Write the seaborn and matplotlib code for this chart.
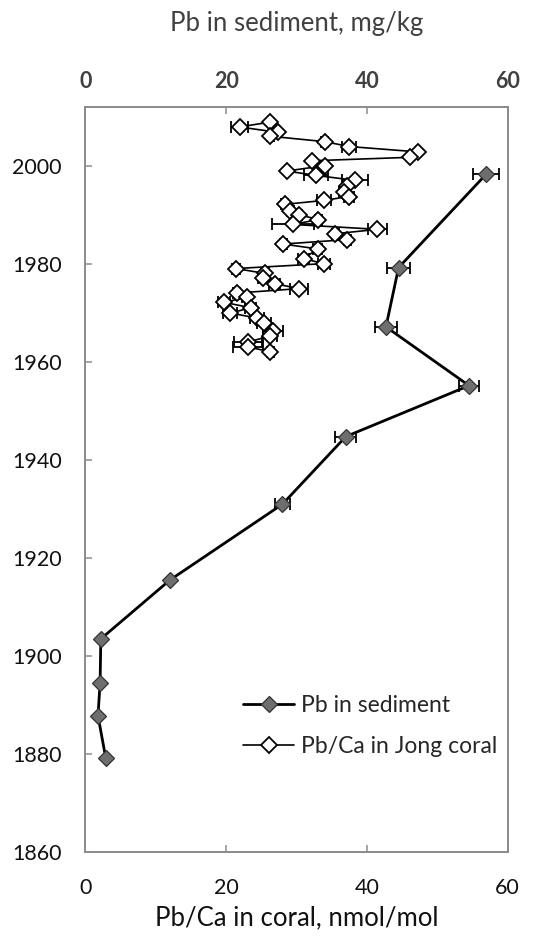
import matplotlib
matplotlib.use("Agg")
import matplotlib.pyplot as plt
import seaborn as sns
import pandas as pd
from matplotlib.lines import Line2D

# Pb in sediment core (mg/kg) by year, with analytical error
sed_year = [1998.3, 1979.3, 1967.2, 1955.2, 1944.8, 1931.0, 1915.5, 1903.5, 1894.6, 1887.8, 1879.2]
sed_pb = [56.9, 44.5, 42.7, 54.5, 37.0, 28.0, 12.0, 2.2, 2.1, 1.8, 2.9]
sed_err = [1.9, 1.6, 1.5, 1.4, 1.5, 1.1, 0.0, 0.0, 0.0, 0.0, 0.0]

# Pb/Ca in Jong coral (nmol/mol) by year, with error
coral_year = [2009.0, 2008.0, 2006.9, 2006.1, 2005.0, 2004.0, 2002.9, 2001.8, 2001.1, 2000.1,
              1999.0, 1998.1, 1997.1, 1996.0, 1994.8, 1993.8, 1993.0, 1992.2, 1990.9, 1990.1,
              1989.1, 1988.1, 1987.1, 1986.2, 1985.0, 1984.1, 1983.1, 1981.1, 1980.1, 1979.1,
              1978.1, 1977.2, 1976.0, 1975.0, 1974.1, 1973.2, 1972.2, 1971.1, 1970.0, 1969.0,
              1968.0, 1966.3, 1965.3, 1964.1, 1963.1, 1962.1]
coral_pbca = [26.3, 21.9, 27.3, 26.3, 34.0, 37.5, 47.3, 46.1, 32.2, 34.0,
              28.6, 32.8, 38.3, 37.1, 36.7, 37.4, 33.9, 28.3, 29.1, 30.3,
              33.1, 29.5, 41.5, 35.5, 37.2, 28.1, 33.0, 31.0, 33.9, 21.4,
              25.5, 25.3, 26.9, 30.4, 21.5, 22.9, 19.7, 23.5, 20.6, 24.4,
              25.4, 26.7, 26.2, 23.1, 23.1, 26.3]
coral_err = [0.0, 1.2, 0.0, 0.5, 0.5, 1.0, 0.0, 0.0, 0.0, 0.5,
             0.0, 1.7, 1.9, 0.5, 0.7, 0.7, 1.0, 0.5, 0.5, 0.5,
             0.5, 3.0, 1.4, 0.5, 0.5, 0.5, 0.6, 0.8, 0.8, 0.5,
             0.6, 0.8, 0.8, 1.3, 0.5, 0.6, 0.8, 0.8, 1.0, 1.0,
             1.0, 1.4, 1.0, 2.0, 2.1, 0.5]

sed = pd.DataFrame({"year": sed_year, "pb": sed_pb, "err": sed_err})
coral = pd.DataFrame({"year": coral_year, "pbca": coral_pbca, "err": coral_err})

sns.set_theme(style="white")
plt.rcParams["font.family"] = ["Lato", "DejaVu Sans"]

AXIS_GREY = "#8c8c8c"
TICK_FS = 15.5
LABEL_FS = 18.5

fig = plt.figure(figsize=(5.37, 9.4), dpi=100)
ax = fig.add_axes([0.1589, 0.0936, 0.7866, 0.7922])
ax_top = ax.twiny()

# coral on the bottom axis
ax.errorbar(coral["pbca"], coral["year"], xerr=coral["err"], fmt="none",
            ecolor="black", elinewidth=1.3, capsize=4, capthick=1.3, zorder=2)
sns.lineplot(data=coral, x="pbca", y="year", sort=False, orient="y", estimator=None,
             color="black", linewidth=1.2, marker="D", markersize=8.5,
             markerfacecolor="white", markeredgecolor="black", markeredgewidth=1.3,
             ax=ax, zorder=3, legend=False)

# sediment on the top axis
ax_top.errorbar(sed["pb"], sed["year"], xerr=sed["err"], fmt="none",
                ecolor="black", elinewidth=1.3, capsize=4, capthick=1.3, zorder=2)
sns.lineplot(data=sed, x="pb", y="year", sort=False, orient="y", estimator=None,
             color="black", linewidth=2.0, marker="D", markersize=8.5,
             markerfacecolor="#6e6e6e", markeredgecolor="#333333", markeredgewidth=0.9,
             ax=ax_top, zorder=3, legend=False)

for a in (ax, ax_top):
    a.set_xlim(0, 60)
    a.set_xticks([0, 20, 40, 60])
    for s in a.spines.values():
        s.set_color(AXIS_GREY)
        s.set_linewidth(1.3)
ax.set_ylim(1860, 2012)
ax.set_yticks(range(1860, 2001, 20))

ax.tick_params(axis="both", direction="in", length=5, width=1.1, color=AXIS_GREY,
               labelsize=TICK_FS, labelcolor="#111111")
ax.tick_params(axis="x", pad=19, bottom=True)
ax.tick_params(axis="y", pad=17, left=True)
ax_top.tick_params(axis="x", direction="in", length=5, width=1.1, color=AXIS_GREY,
                   labelsize=TICK_FS, labelcolor="#404040", pad=11, top=True)
for lab in ax_top.get_xticklabels():
    lab.set_fontweight("bold")

ax.set_xlabel("Pb/Ca in coral, nmol/mol", fontsize=LABEL_FS, color="#111111", labelpad=5)
ax.set_ylabel("")
ax_top.set_xlabel("Pb in sediment, mg/kg", fontsize=LABEL_FS, color="#404040", labelpad=29)

handles = [
    Line2D([], [], color="black", linewidth=2.0, marker="D", markersize=8.5,
           markerfacecolor="#6e6e6e", markeredgecolor="#333333", markeredgewidth=0.9),
    Line2D([], [], color="black", linewidth=1.2, marker="D", markersize=8.5,
           markerfacecolor="white", markeredgecolor="black", markeredgewidth=1.3),
]
ax.legend(handles, ["Pb in sediment", "Pb/Ca in Jong coral"], loc="upper left",
          bbox_to_anchor=(0.347, 0.226), frameon=False, fontsize=16.5,
          handlelength=2.2, handletextpad=0.3, labelspacing=0.85, borderpad=0)

fig.savefig("out.png", dpi=100)
